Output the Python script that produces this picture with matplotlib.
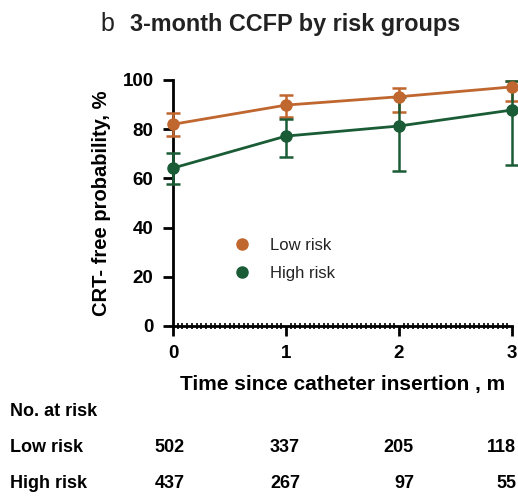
import matplotlib.pyplot as plt
from matplotlib.ticker import MultipleLocator

months = [0, 1, 2, 3]
low_risk = [82.0, 89.8, 93.2, 97.2]
low_upper = [86.6, 94.0, 96.7, 99.5]
low_lower = [77.2, 85.0, 87.0, 91.5]
high_risk = [64.2, 77.2, 81.3, 87.8]
high_upper = [70.3, 84.0, 93.0, 99.5]
high_lower = [57.7, 68.7, 63.0, 65.4]
n_low = ['502', '337', '205', '118']
n_high = ['437', '267', '97', '55']

orange = '#C0662F'
green = '#1A5C36'

plt.rcParams['font.family'] = ['Liberation Sans', 'DejaVu Sans']
fig = plt.figure(figsize=(5.18, 4.97), dpi=100)
ax = fig.add_axes([173/518, 1-326/497, 339/518, 246/497])

for y, up, lo, c, lab in [(low_risk, low_upper, low_lower, orange, 'Low risk'),
                          (high_risk, high_upper, high_lower, green, 'High risk')]:
    err = [[a - b for a, b in zip(y, lo)], [b - a for a, b in zip(y, up)]]
    ax.errorbar(months, y, yerr=err, color=c, lw=2, marker='o', ms=8,
                capsize=5, capthick=1.8, elinewidth=1.8, clip_on=False, zorder=3)
    ax.plot([], [], 'o', color=c, ms=8, label=lab)

ax.set_xlim(0, 3)
ax.set_ylim(0, 100)
ax.spines['top'].set_visible(False)
ax.spines['right'].set_visible(False)
ax.spines['left'].set_linewidth(2)
ax.spines['bottom'].set_linewidth(2)
ax.set_xticks(months)
ax.set_yticks([0, 20, 40, 60, 80, 100])
ax.xaxis.set_minor_locator(MultipleLocator(1/24))
ax.tick_params(axis='both', which='major', width=2, length=7, labelsize=13.5, pad=7)
ax.tick_params(axis='x', which='minor', direction='inout', width=1.2, length=4)
for t in ax.get_xticklabels() + ax.get_yticklabels():
    t.set_fontweight('bold')
ax.set_ylabel('CRT- free probability, %', fontsize=14.5, fontweight='bold', labelpad=8)
ax.set_xlabel('Time since catheter insertion , m', fontsize=15, fontweight='bold', labelpad=9)
leg = ax.legend(loc='center left', bbox_to_anchor=(0.11, 0.27), frameon=False, fontsize=12,
                handletextpad=0.7, labelspacing=0.8)
for t in leg.get_texts():
    t.set_color('#222222')

fig.text(100/518, 1-24/497, 'b', fontsize=18, va='center', color='#222222')
fig.text(130/518, 1-24/497, '3-month CCFP by risk groups', fontsize=16.8, fontweight='bold',
         va='center', color='#222222')

fig.text(10/518, 1-411/497, 'No. at risk', fontsize=13, fontweight='bold', va='center')
fig.text(10/518, 1-447/497, 'Low risk', fontsize=13, fontweight='bold', va='center')
fig.text(10/518, 1-484/497, 'High risk', fontsize=13, fontweight='bold', va='center')
col_right = [185, 300, 414, 516]
for xr, a, b in zip(col_right, n_low, n_high):
    fig.text(xr/518, 1-447/497, a, fontsize=13, fontweight='bold', va='center', ha='right')
    fig.text(xr/518, 1-484/497, b, fontsize=13, fontweight='bold', va='center', ha='right')

fig.savefig('out.png', dpi=100)
